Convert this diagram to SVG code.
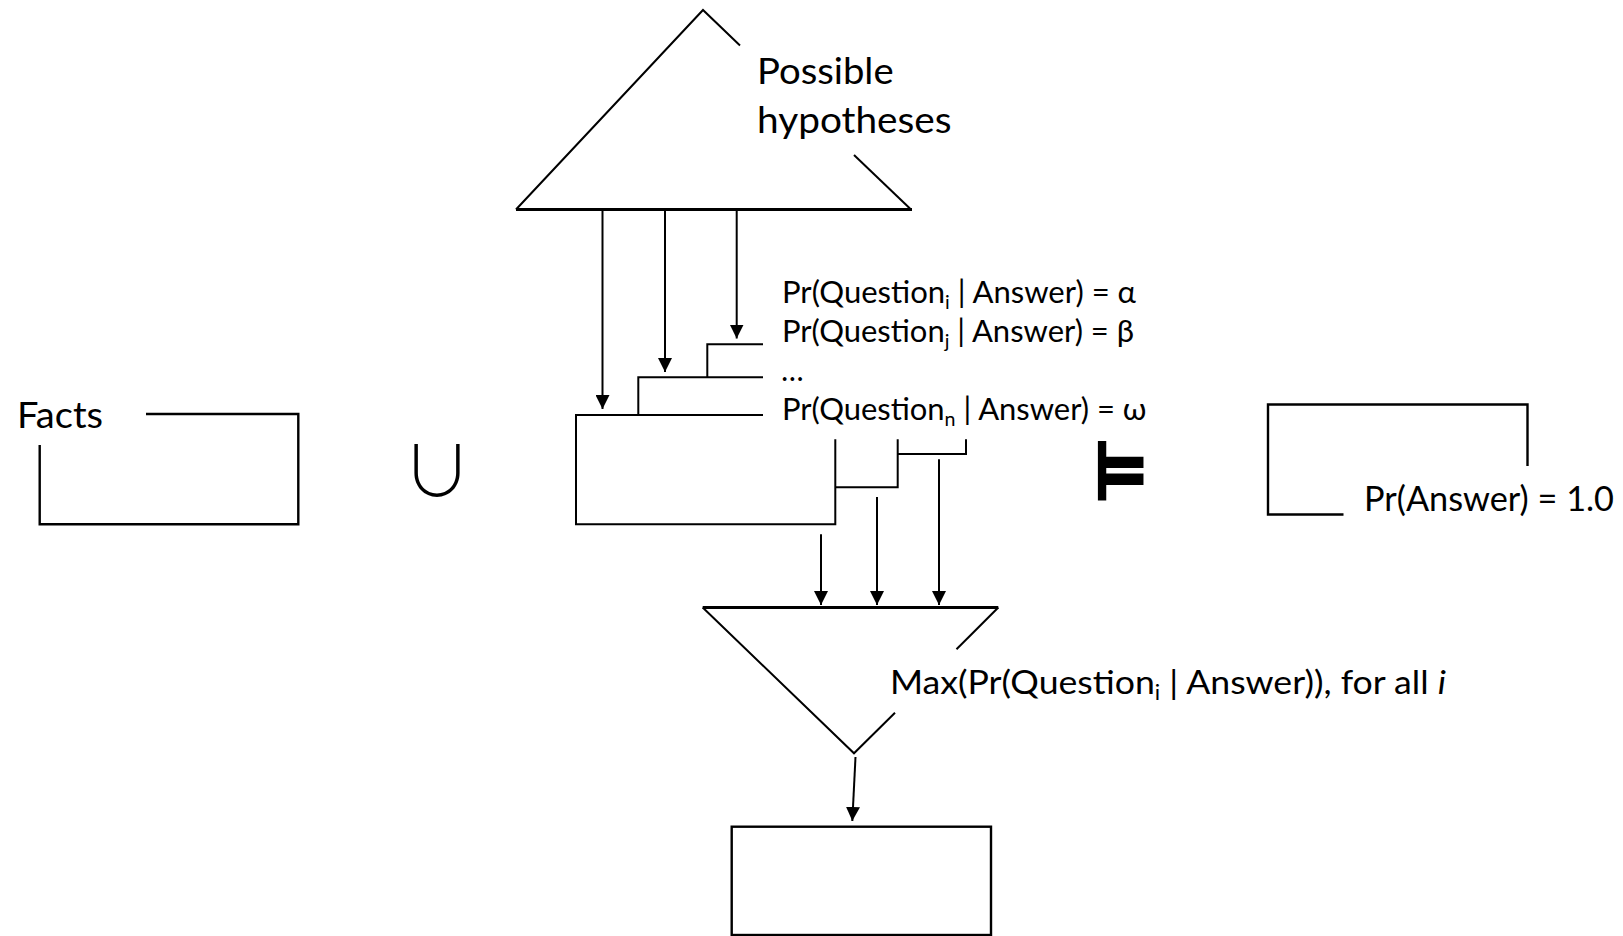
<svg xmlns="http://www.w3.org/2000/svg" width="1623" height="936" viewBox="0 0 1623 936">
<defs>
<style>
.ln{fill:none;stroke:#000;stroke-width:2}
.base{fill:none;stroke:#000;stroke-width:3}
.box{fill:none;stroke:#000;stroke-width:2.4}
.t{font-family:Lato,"Liberation Sans",sans-serif;fill:#000}
.big{font-size:37px}
.sm{font-size:30px}
.sub{font-size:19px}
.arr{fill:none;stroke:#000;stroke-width:2;marker-end:url(#ah)}
</style>
<marker id="ah" markerUnits="userSpaceOnUse" markerWidth="14" markerHeight="14" viewBox="0 0 14 14" refX="14" refY="7" orient="auto">
<path d="M0,0 L14,7 L0,14 Z" fill="#000"/>
</marker>
</defs>
<rect width="1623" height="936" fill="#fff"/>

<g id="hypotheses">
<path class="ln" d="M740,45.5 L703,10 L516,209.5"/>
<path class="ln" d="M854,155 L911,209.5"/>
<path class="base" d="M516,209.5 H912"/>
<text class="t big" x="757" y="84" textLength="136.6" lengthAdjust="spacingAndGlyphs">Possible</text>
<text class="t big" x="757" y="133" textLength="194.6" lengthAdjust="spacingAndGlyphs">hypotheses</text>
</g>

<g id="facts">
<path class="box" d="M146,414 H298.3 V524.3 H39.7 V445"/>
<text class="t big" x="17" y="428" textLength="86" lengthAdjust="spacingAndGlyphs">Facts</text>
</g>

<g id="union">
<text x="437" y="497" text-anchor="middle" style="font-family:'DejaVu Sans ExtraLight','Noto Sans CJK SC','DejaVu Sans',sans-serif;font-size:70px;font-weight:200">∪</text>
</g>

<g id="question-stack">
<path class="ln" d="M763,344.3 H707.3 V377.3"/>
<path class="ln" d="M897.7,454 H966 V439.3"/>
<path class="ln" d="M763,377.3 H638.3 V415"/>
<path class="ln" d="M835.3,487.3 H897.7 V439.3"/>
<path class="ln" d="M763,415 H576 V524.3 H835.3 V439.3"/>
<text class="t sm" x="782" y="302.5" textLength="354" lengthAdjust="spacingAndGlyphs">Pr(Question<tspan class="sub" dy="6">i</tspan><tspan dy="-6"> | Answer) = α</tspan></text>
<text class="t sm" x="782" y="341.5" textLength="352" lengthAdjust="spacingAndGlyphs">Pr(Question<tspan class="sub" dy="6">j</tspan><tspan dy="-6"> | Answer) = β</tspan></text>
<text class="t sm" x="782" y="380.5" font-style="italic">…</text>
<text class="t sm" x="782" y="419.5" textLength="364.5" lengthAdjust="spacingAndGlyphs">Pr(Question<tspan class="sub" dy="6">n</tspan><tspan dy="-6"> | Answer) = ω</tspan></text>
</g>

<g id="models">
<text transform="translate(1094,499) scale(0.73,1)" x="0" y="0" style="font-family:'DejaVu Sans Mono','DejaVu Sans',monospace;font-size:80px;font-weight:bold" stroke="#000" stroke-width="3">⊨</text>
</g>

<g id="answer">
<path class="box" d="M1343.5,514.5 H1268 V404.5 H1527.5 V466"/>
<text class="t" x="1364" y="511" style="font-size:35px" textLength="250" lengthAdjust="spacingAndGlyphs">Pr(Answer) = 1.0</text>
</g>

<g id="max">
<path class="base" d="M702.7,607.5 H998.3"/>
<path class="ln" d="M702.7,607.5 L854,753.3 L895,712.7"/>
<path class="ln" d="M956.5,649.3 L998.3,607.5"/>
<text class="t" x="890" y="693.5" style="font-size:33.5px" textLength="556" lengthAdjust="spacingAndGlyphs">Max(Pr(Question<tspan class="sub" style="font-size:21px" dy="6">i</tspan><tspan dy="-6"> | Answer)), for all </tspan><tspan font-style="italic">i</tspan></text>
</g>

<g id="result">
<rect class="box" x="731.7" y="826.7" width="259.3" height="108.3"/>
</g>

<g id="connectors">
<path class="arr" d="M602.5,211 V409"/>
<path class="arr" d="M665,211 V372"/>
<path class="arr" d="M736.7,211 V338.5"/>
<path class="arr" d="M821,534.3 V605"/>
<path class="arr" d="M877,497 V605"/>
<path class="arr" d="M939,459.3 V605"/>
<path class="arr" d="M855.5,757 L852.3,821"/>
</g>
</svg>
